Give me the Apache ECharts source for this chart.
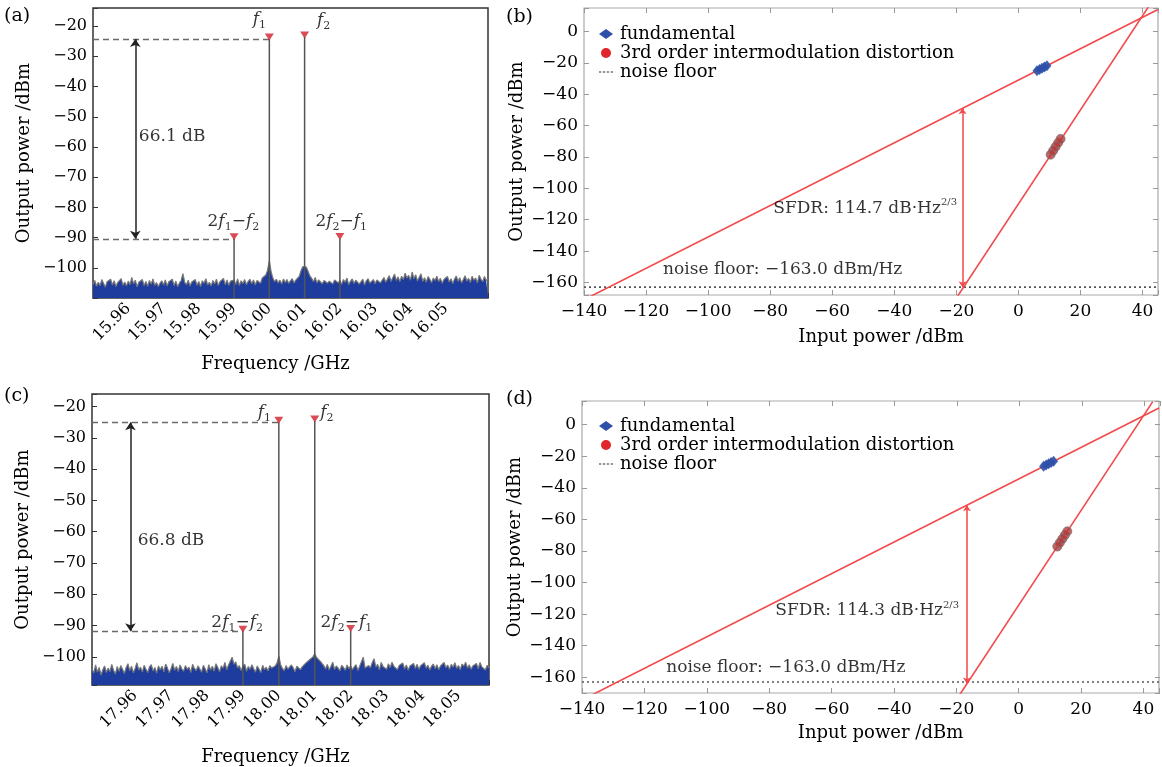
<!DOCTYPE html>
<html>
<head>
<meta charset="utf-8">
<script src="https://cdn.jsdelivr.net/npm/echarts@6/dist/echarts.min.js"></script>
<style>
  html, body { margin: 0; background: #fff; }
  #chart { width: 1162px; height: 767px; }
</style>
</head>
<body>
<div id="chart"></div>
<script>
const SERIF = '"DejaVu Serif", "Liberation Serif", serif';
const INK = "#000";

// (a) spectrum around 16 GHz, one value every 0.5 MHz starting at 15.95 GHz
const startA = 15.95, stepA = 0.0005;
const noiseA = [
  -105.5,-104.2,-106.1,-104.8,-105.9,-103.9,-105.2,-106.4,-104.6,-105.1,-103.8,-105.7,-104.3,-106.2,-104.9,-105.4,-103.6,-105.8,-104.7,-106.0,
  -104.4,-105.6,-103.2,-105.3,-104.1,-106.3,-104.8,-105.0,-103.9,-105.9,-104.5,-106.1,-104.2,-105.4,-103.7,-105.8,-104.9,-106.2,-105.1,-104.3,
  -105.7,-104.0,-106.0,-104.6,-105.2,-103.8,-105.9,-104.4,-106.3,-105.0,-104.2,-101.9,-104.8,-105.6,-104.1,-106.0,-104.7,-105.3,-103.9,-105.8,
  -104.5,-106.2,-104.3,-105.1,-103.6,-105.7,-104.8,-106.0,-104.2,-105.4,-103.8,-105.9,-104.6,-105.2,-103.5,-105.6,-104.0,-105.8,-104.4,-105.0,
  -104.1,-105.5,-103.7,-105.9,-104.3,-105.2,-103.9,-105.6,-104.5,-103.8,-105.3,-104.0,-105.7,-104.2,-103.6,-105.1,-103.4,-104.0,-102.4,-100.8,
  -97.6,-101.3,-103.4,-104.6,-103.8,-105.0,-104.1,-105.4,-103.7,-104.9,-103.9,-105.2,-104.3,-103.6,-105.0,-104.1,-103.5,-102.8,-100.9,-99.6,
  -99.3,-99.8,-101.2,-102.7,-103.5,-104.6,-103.2,-105.0,-104.0,-103.4,-105.3,-104.2,-103.7,-105.1,-104.4,-103.8,-105.4,-104.0,-103.6,-105.0,
  -104.2,-105.5,-103.9,-104.8,-103.4,-105.6,-104.5,-103.7,-105.2,-104.1,-103.5,-105.4,-104.6,-103.8,-105.7,-104.3,-103.6,-105.1,-104.7,-103.9,
  -105.3,-104.0,-103.5,-105.0,-104.4,-103.2,-104.8,-103.7,-102.6,-104.5,-103.3,-102.1,-104.2,-103.0,-104.6,-102.8,-103.9,-101.8,-103.4,-102.5,
  -104.1,-101.4,-103.6,-102.3,-104.4,-103.1,-102.0,-104.5,-103.3,-104.8,-102.9,-103.8,-105.0,-103.4,-104.2,-102.8,-104.6,-103.5,-105.1,-103.9,
  -104.3,-102.9,-104.7,-103.6,-105.2,-103.8,-102.7,-104.5,-103.3,-105.0,-103.9,-102.6,-104.4,-103.5,-104.9,-102.8,-104.1,-103.4,-105.0,-102.5,
  -103.8,-104.6,-102.9,-104.2,-103.7
];
const toneFreqA = [15.99, 16.00, 16.01, 16.02];
const toneLevelA = [-90.4, -24.3, -23.6, -90.3];
const freqLabelsA = ["15.96","15.97","15.98","15.99","16.00","16.01","16.02","16.03","16.04","16.05"];

// (c) spectrum around 18 GHz
const startC = 17.948, stepC = 0.0005;
const noiseC = [
  -103.8,-105.2,-102.6,-104.9,-103.4,-105.8,-104.1,-102.9,-105.0,-103.6,-104.7,-102.4,-104.3,-105.5,-103.1,-104.6,-102.8,-104.0,-105.3,-103.5,
  -102.2,-104.4,-103.0,-105.1,-103.7,-101.9,-104.2,-103.3,-104.9,-102.7,-103.9,-105.0,-103.2,-102.5,-104.5,-103.4,-105.2,-102.9,-104.1,-103.0,
  -104.8,-102.3,-103.6,-105.1,-103.8,-102.1,-104.3,-103.1,-104.7,-102.6,-103.9,-104.6,-102.8,-104.0,-103.3,-105.0,-102.4,-103.7,-104.4,-102.9,
  -103.5,-104.9,-102.7,-103.8,-105.1,-102.5,-104.2,-103.0,-104.6,-102.2,-103.4,-104.8,-102.9,-103.6,-101.8,-104.1,-102.6,-103.2,-100.1,-102.4,
  -101.6,-103.5,-102.8,-104.4,-103.0,-102.3,-104.6,-103.1,-104.0,-102.5,-103.8,-104.9,-102.9,-103.4,-105.0,-102.7,-104.1,-103.3,-104.5,-102.8,
  -103.6,-104.2,-102.9,-102.0,-99.8,-102.5,-103.7,-104.5,-102.8,-103.9,-104.3,-102.6,-103.5,-104.8,-103.0,-102.4,-104.1,-103.2,-102.6,-102.0,
  -101.6,-101.0,-100.4,-100.0,-99.0,-100.2,-100.7,-101.4,-102.0,-102.8,-103.9,-102.4,-104.2,-103.1,-101.7,-104.0,-102.9,-103.6,-104.5,-102.7,
  -103.4,-104.3,-102.6,-103.8,-102.9,-104.1,-103.2,-102.5,-104.4,-103.0,-102.7,-100.1,-103.6,-104.0,-102.8,-103.5,-101.9,-100.6,-103.3,-102.4,
  -104.2,-101.8,-103.1,-102.6,-104.0,-102.2,-103.5,-101.7,-103.0,-102.5,-104.1,-102.8,-103.4,-102.0,-103.9,-102.6,-104.3,-102.9,-103.3,-102.1,
  -103.7,-102.4,-104.0,-102.8,-103.2,-101.9,-103.6,-102.7,-104.2,-103.0,-102.3,-103.8,-102.5,-104.1,-102.9,-103.4,-101.8,-103.5,-102.6,-104.0,
  -102.4,-103.3,-101.9,-103.7,-102.8,-104.1,-102.3,-103.0,-101.7,-103.6,-102.5,-104.0,-102.9,-103.4,-102.1,-103.8,-101.8,-103.2,-102.6,-104.2,
  -102.7,-103.5
];
const toneFreqC = [17.99, 18.00, 18.01, 18.02];
const toneLevelC = [-91.8, -25.0, -24.6, -91.6];
const freqLabelsC = ["17.96","17.97","17.98","17.99","18.00","18.01","18.02","18.03","18.04","18.05"];

const powerTicks = [-100, -90, -80, -70, -60, -50, -40, -30, -20];

// (b) / (d) linearity measurements
const inputTicks = [-140, -120, -100, -80, -60, -40, -20, 0, 20, 40];
const outputTicks = [-160, -140, -120, -100, -80, -60, -40, -20, 0];
const noiseFloor = -163.0;

const fundInB = [6.0, 6.8, 7.6, 8.4, 9.2];
const fundOutB = [-25.0, -24.2, -23.4, -22.6, -21.8];
const imdInB = [10.4, 11.2, 12.0, 12.8, 13.6];
const imdOutB = [-78.5, -76.0, -73.5, -71.0, -68.5];
const fundFitB = [[-140, -171], [45, 14]];
const imdFitB = [[-20, -170], [43, 19]];
const sfdrXB = -18, sfdrYB = [-49, -163];

const fundInD = [8.0, 8.8, 9.6, 10.4, 11.2];
const fundOutD = [-26.4, -25.6, -24.8, -24.0, -23.2];
const imdInD = [12.4, 13.2, 14.0, 14.8, 15.6];
const imdOutD = [-77.2, -74.8, -72.4, -70.0, -67.6];
const fundFitD = [[-140, -174.4], [45, 10.6]];
const imdFitD = [[-20, -174.4], [43, 14.6]];
const sfdrXD = -16.6, sfdrYD = [-51, -164];

const minus = (v) => String(v).replace("-", "\u2212");

const rich = {
  n: { fontFamily: SERIF, fontSize: 17, color: INK, lineHeight: 22 },
  i: { fontFamily: SERIF, fontSize: 17, fontStyle: "italic", color: INK, lineHeight: 22 },
  s: { fontFamily: SERIF, fontSize: 11, color: INK, verticalAlign: "bottom" },
  p: { fontFamily: SERIF, fontSize: 10, color: INK, verticalAlign: "top" },
};
const nameStyle = { fontFamily: SERIF, fontSize: 18, color: INK };

function note(ax, x, y, text, position) {
  return {
    type: "scatter", xAxisIndex: ax, yAxisIndex: ax, silent: true,
    symbolSize: 0, data: [[x, y]], z: 10,
    label: { show: true, position: position || "inside", distance: 0, formatter: text, rich: rich },
  };
}

function specX(ax, min, max, labels, gap) {
  return {
    type: "value", gridIndex: ax, min: min, max: max,
    minInterval: 0.01, maxInterval: 0.01,
    name: "Frequency /GHz", nameLocation: "middle", nameGap: gap,
    nameTextStyle: Object.assign({ padding: [0, 30, 0, 0] }, nameStyle),
    axisLine: { show: false, onZero: false },
    axisTick: { inside: true, length: 5, lineStyle: { color: "#333" } },
    axisLabel: {
      rotate: 45, margin: 8, fontFamily: SERIF, fontSize: 16, color: INK,
      formatter: (v) => (labels.includes(v.toFixed(2)) ? v.toFixed(2) : ""),
    },
    splitLine: { show: false },
  };
}

function specY(ax, min, max) {
  return {
    type: "value", gridIndex: ax, min: min, max: max,
    minInterval: 10, maxInterval: 10,
    name: "Output power /dBm", nameLocation: "middle", nameGap: 60,
    nameTextStyle: nameStyle,
    axisLine: { show: false, onZero: false },
    axisTick: { inside: true, length: 5, lineStyle: { color: "#333" } },
    axisLabel: {
      margin: 6, fontFamily: SERIF, fontSize: 16, color: INK,
      formatter: (v) => (powerTicks.includes(Math.round(v)) && Math.abs(v - Math.round(v)) < 1e-6 ? minus(Math.round(v)) : ""),
    },
    splitLine: { show: false },
  };
}

function linX(ax, position, withLabels, gap) {
  return {
    type: "value", gridIndex: ax, min: -140, max: 45, interval: 20, position: position,
    name: withLabels ? "Input power /dBm" : "", nameLocation: "middle", nameGap: gap || 38,
    nameTextStyle: Object.assign({ padding: [0, 0, 0, 20] }, nameStyle),
    axisLine: { show: false, onZero: false },
    axisTick: { inside: true, length: 5, lineStyle: { color: "#999" } },
    axisLabel: {
      show: withLabels, margin: 8, fontFamily: SERIF, fontSize: 17, color: INK,
      formatter: (v) => (inputTicks.includes(v) ? minus(v) : ""),
    },
    splitLine: { show: false },
  };
}

function linY(ax, min, position, withLabels) {
  return {
    type: "value", gridIndex: ax, min: min, max: 15, minInterval: 20, maxInterval: 20, position: position,
    name: withLabels ? "Output power /dBm" : "", nameLocation: "middle", nameGap: 58,
    nameTextStyle: nameStyle,
    axisLine: { show: false, onZero: false },
    axisTick: { inside: true, length: 5, lineStyle: { color: "#999" } },
    axisLabel: {
      show: withLabels, margin: 6, fontFamily: SERIF, fontSize: 17, color: INK,
      formatter: (v) => (outputTicks.includes(v) ? minus(v) : ""),
    },
    splitLine: { show: false },
  };
}

function spectrumSeries(ax, start, step, noise, toneF, toneL, yMin, arrowX, gapText, gapX, gapY, labels) {
  const out = [];
  out.push({
    type: "line", xAxisIndex: ax, yAxisIndex: ax, silent: true, symbol: "none",
    data: noise.map((v, i) => [start + i * step, v]),
    lineStyle: { color: "#777", width: 1.2 },
    areaStyle: { color: "#1d3c9e", opacity: 1, origin: "start" },
    z: 2,
  });
  toneF.forEach((f, i) => {
    out.push({
      type: "line", xAxisIndex: ax, yAxisIndex: ax, silent: true, symbol: "none",
      data: [[f, yMin], [f, toneL[i]]],
      lineStyle: { color: "#555", width: 1.5 }, z: 3,
    });
  });
  const dash = { type: [6, 4], color: "#6a6a6a", width: 1.3 };
  out.push({
    type: "scatter", xAxisIndex: ax, yAxisIndex: ax, silent: true,
    data: toneF.map((f, i) => [f, toneL[i]]),
    symbol: "triangle", symbolRotate: 180, symbolSize: [9, 7], symbolOffset: [0, -2],
    itemStyle: { color: "#d01f2b" }, z: 5,
    markLine: {
      silent: true, animation: false, label: { show: false },
      data: [
        [{ coord: [start, toneL[1]], symbol: "none", lineStyle: dash }, { coord: [toneF[1], toneL[1]], symbol: "none" }],
        [{ coord: [start, toneL[0]], symbol: "none", lineStyle: dash }, { coord: [toneF[0], toneL[0]], symbol: "none" }],
        [
          { coord: [arrowX, toneL[1]], symbol: "arrow", symbolSize: 8, lineStyle: { type: "solid", color: "#222", width: 1.5 } },
          { coord: [arrowX, toneL[0]], symbol: "arrow", symbolSize: 8 },
        ],
      ],
    },
  });
  out.push(note(ax, gapX, gapY, "{n|" + gapText + "}", "right"));
  labels.forEach((l) => out.push(note(ax, l[0], l[1], l[2])));
  return out;
}

function linearitySeries(ax, fundIn, fundOut, imdIn, imdOut, fundFit, imdFit, sfdrX, sfdrY, sfdrText, nfPos, sfdrPos) {
  const red = "#f2494a";
  return [
    {
      type: "line", xAxisIndex: ax, yAxisIndex: ax, silent: true, symbol: "none", data: fundFit,
      lineStyle: { color: red, width: 1.6 }, z: 3,
      markLine: {
        silent: true, animation: false, label: { show: false },
        data: [[
          { coord: [sfdrX, sfdrY[0]], symbol: "arrow", symbolSize: 6, lineStyle: { type: "solid", color: red, width: 1.5 } },
          { coord: [sfdrX, sfdrY[1]], symbol: "arrow", symbolSize: 6 },
        ]],
      },
    },
    {
      type: "line", xAxisIndex: ax, yAxisIndex: ax, silent: true, symbol: "none", data: imdFit,
      lineStyle: { color: red, width: 1.6 }, z: 3,
    },
    {
      name: "noise floor", type: "line", xAxisIndex: ax, yAxisIndex: ax, silent: true, symbol: "none",
      data: [[-140, noiseFloor], [45, noiseFloor]],
      itemStyle: { color: "#666" },
      lineStyle: { color: "#555", width: 1.6, type: [2, 3] }, z: 2,
    },
    {
      name: "fundamental", type: "scatter", xAxisIndex: ax, yAxisIndex: ax, symbol: "diamond", symbolSize: [9, 11],
      data: fundIn.map((x, i) => [x, fundOut[i]]),
      itemStyle: { color: "#2f50a8", opacity: 0.9 }, z: 4,
    },
    {
      name: "3rd order intermodulation distortion", type: "scatter", xAxisIndex: ax, yAxisIndex: ax,
      symbol: "circle", symbolSize: 9,
      data: imdIn.map((x, i) => [x, imdOut[i]]),
      itemStyle: { color: "#b5393b", opacity: 0.8, borderColor: "#777", borderWidth: 1 }, z: 4,
    },
    note(ax, nfPos[0], nfPos[1], "{n|noise floor: \u2212163.0 dBm/Hz}", "right"),
    note(ax, sfdrPos[0], sfdrPos[1], "{n|" + sfdrText + "}{p|2/3}", "right"),
  ];
}

function legendAt(left, top) {
  return {
    left: left, top: top, orient: "vertical", itemGap: 1, itemWidth: 14, itemHeight: 10,
    selectedMode: false,
    data: [
      { name: "fundamental", itemStyle: { color: "#2f50a8", opacity: 1 } },
      { name: "3rd order intermodulation distortion", itemStyle: { color: "#e0262a", borderWidth: 0, opacity: 1 } },
      { name: "noise floor", icon: "path://M0,4h3v2h-3zM5,4h3v2h-3zM10,4h3v2h-3zM15,4h3v2h-3z", itemStyle: { color: "#777" } },
    ],
    textStyle: { fontFamily: SERIF, fontSize: 18, color: INK, padding: [0, 0, 0, 2] },
  };
}

const chart = echarts.init(document.getElementById("chart"), null, { renderer: "canvas" });
const option = {
  backgroundColor: "#fff",
  animation: false,
  grid: [
    { left: 93, top: 8, width: 395, height: 290, show: true, borderColor: "#333", borderWidth: 1.5, backgroundColor: "transparent" },
    { left: 584, top: 8, width: 574, height: 287, show: true, borderColor: "#aaa", borderWidth: 1.2, backgroundColor: "transparent" },
    { left: 584, top: 8, width: 574, height: 287 },
    { left: 92, top: 394, width: 397, height: 298, show: true, borderColor: "#333", borderWidth: 1.5, backgroundColor: "transparent" },
    { left: 582, top: 401, width: 578, height: 292, show: true, borderColor: "#aaa", borderWidth: 1.2, backgroundColor: "transparent" },
    { left: 582, top: 401, width: 578, height: 292 },
  ],
  xAxis: [
    specX(0, startA, 16.062, freqLabelsA, 57),
    linX(1, "bottom", true, 33),
    linX(2, "top", false),
    specX(3, startC, 18.0585, freqLabelsC, 63),
    linX(4, "bottom", true, 31),
    linX(5, "top", false),
  ],
  yAxis: [
    specY(0, -110, -14),
    linY(1, -168, "left", true),
    linY(2, -168, "right", false),
    specY(3, -109, -16),
    linY(4, -170, "left", true),
    linY(5, -170, "right", false),
  ],
  legend: [legendAt(594, 20), legendAt(594, 412)],
  graphic: [
    { type: "text", left: 4, top: 7, style: { text: "(a)", fontFamily: SERIF, fontSize: 19, fill: INK } },
    { type: "text", left: 506, top: 8, style: { text: "(b)", fontFamily: SERIF, fontSize: 19, fill: INK } },
    { type: "text", left: 4, top: 387, style: { text: "(c)", fontFamily: SERIF, fontSize: 19, fill: INK } },
    { type: "text", left: 506, top: 390, style: { text: "(d)", fontFamily: SERIF, fontSize: 19, fill: INK } },
  ],
  series: [
    ...spectrumSeries(0, startA, stepA, noiseA, toneFreqA, toneLevelA, -110, 15.962, "66.1 dB", 15.963, -56.5, [
      [15.9972, -17.7, "{i|f}{s|1}"],
      [16.0154, -18.3, "{i|f}{s|2}"],
      [15.9898, -84.8, "{n|2}{i|f}{s|1}{n|\u2212}{i|f}{s|2}"],
      [16.0204, -84.8, "{n|2}{i|f}{s|2}{n|\u2212}{i|f}{s|1}"],
    ]),
    ...linearitySeries(1, fundInB, fundOutB, imdInB, imdOutB, fundFitB, imdFitB, sfdrXB, sfdrYB,
      "SFDR: 114.7 dB\u00b7Hz", [-114.5, -152], [-79, -113]),
    ...spectrumSeries(3, startC, stepC, noiseC, toneFreqC, toneLevelC, -109, 17.9587, "66.8 dB", 17.9607, -63, [
      [17.9960, -21.9, "{i|f}{s|1}"],
      [18.0134, -21.9, "{i|f}{s|2}"],
      [17.9884, -89, "{n|2}{i|f}{s|1}{n|\u2212}{i|f}{s|2}"],
      [18.0188, -89, "{n|2}{i|f}{s|2}{n|\u2212}{i|f}{s|1}"],
    ]),
    ...linearitySeries(4, fundInD, fundOutD, imdInD, imdOutD, fundFitD, imdFitD, sfdrXD, sfdrYD,
      "SFDR: 114.3 dB\u00b7Hz", [-113, -153.8], [-78, -118]),
  ],
};
option && chart.setOption(option);
</script>
</body>
</html>
